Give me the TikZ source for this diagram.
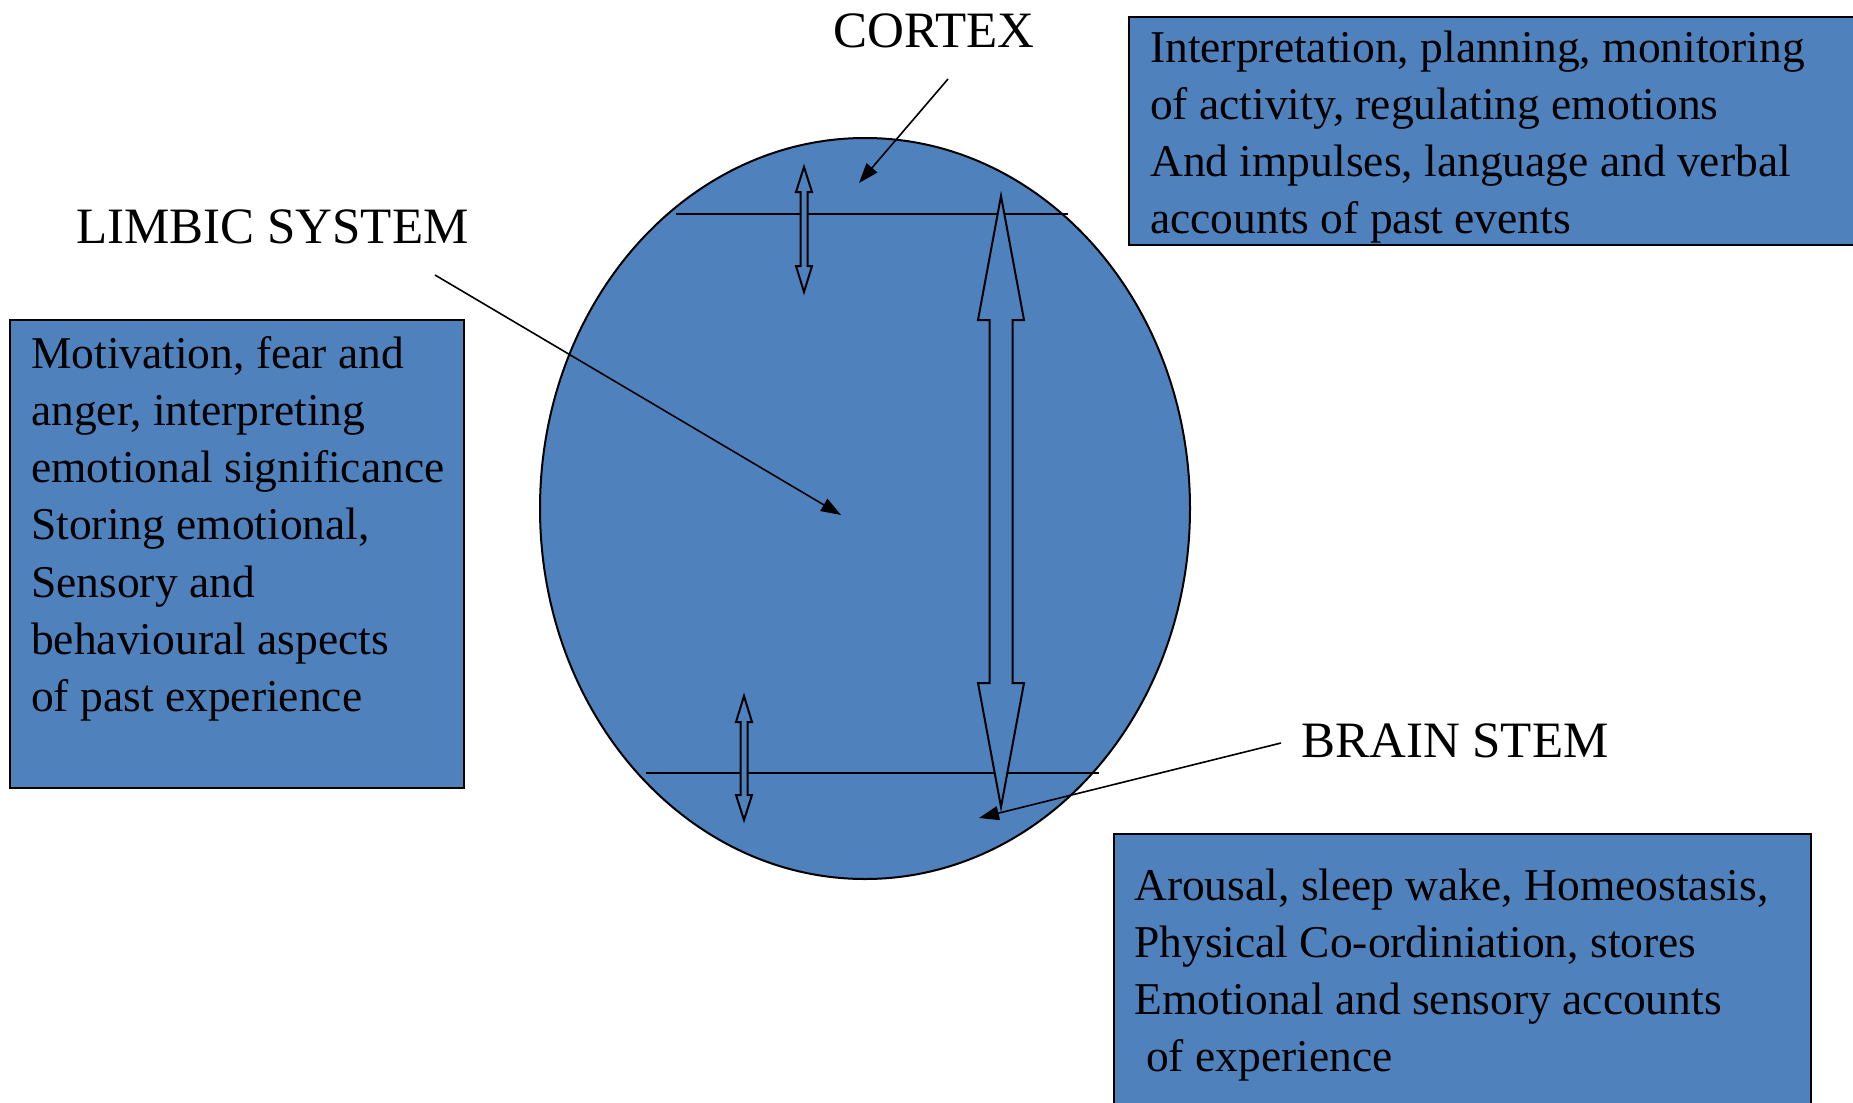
\documentclass[tikz,border=0pt]{standalone}
\usepackage{fontspec}
\setmainfont{Liberation Serif}
\usetikzlibrary{arrows.meta,shapes.geometric}
\definecolor{fillblue}{HTML}{4F81BD}
\newcommand{\infolines}[1]{\parbox[t]{760pt}{\fontsize{45.5}{57.3}\selectfont\raggedright #1}}
\begin{document}
\begin{tikzpicture}[x=1pt,y=-1pt,line join=miter,
  region/.style={fill=fillblue,draw=black,line width=2pt},
  infobox/.style={fill=fillblue,draw=black,line width=2.2pt},
  divider/.style={draw=black,line width=2pt},
  blockarrow/.style={fill=fillblue,draw=black,line width=2pt},
  pointer/.style={draw=black,line width=1.6pt,-{Triangle[length=20pt,width=14pt]}},
  partlabel/.style={font=\fontsize{51}{60}\selectfont,anchor=base west,inner sep=0pt},
  boxtext/.style={anchor=base west,inner sep=0pt}]
\useasboundingbox (0,0) rectangle (1853,1103);
\clip (0,0) rectangle (1853,1103);

% brain ellipse
\node[region,ellipse,minimum width=650pt,minimum height=741pt,inner sep=0pt] (brain) at (865,508.5) {};

% dividers
\coordinate (topL) at (676,214);
\coordinate (topR) at (1068,214);
\coordinate (botL) at (646,773);
\coordinate (botR) at (1099,773);
\draw[divider] (topL) -- (topR);
\draw[divider] (botL) -- (botR);

% block arrows
\draw[blockarrow] (804,167) -- (812,192) -- (807.5,192) -- (807.5,266) -- (812,266) -- (804,292)
  -- (796,266) -- (800.5,266) -- (800.5,192) -- (796,192) -- cycle;
\draw[blockarrow] (1001,196) -- (1024,320) -- (1012.5,320) -- (1012.5,683) -- (1024,683) -- (1001,807)
  -- (978,683) -- (989.5,683) -- (989.5,320) -- (978,320) -- cycle;
\draw[blockarrow] (744,696) -- (752,722) -- (747.5,722) -- (747.5,795) -- (752,795) -- (744,820)
  -- (736,795) -- (740.5,795) -- (740.5,722) -- (736,722) -- cycle;

% labels
\node[partlabel] (cortex) at (833,47) {CORTEX};
\node[partlabel] (limbic) at (76,243) {LIMBIC SYSTEM};
\node[partlabel] (stem) at (1301,757) {BRAIN STEM};

% pointers
\coordinate (cortexFrom) at (948,79);
\coordinate (cortexTo) at (859,183);
\coordinate (limbicFrom) at (435,275);
\coordinate (limbicTo) at (841,515);
\coordinate (stemFrom) at (1281,743);
\coordinate (stemTo) at (979,818);
\draw[pointer] (cortexFrom) -- (cortexTo);
\draw[pointer] (limbicFrom) -- (limbicTo);
\draw[pointer] (stemFrom) -- (stemTo);

% info boxes
\draw[infobox] (1129,17) rectangle (1880,245);
\node[boxtext] (cortexinfo) at (1150,62) {\infolines{Interpretation, planning, monitoring\\
of activity, regulating emotions\\
And impulses, language and verbal\\
accounts of past events}};

\draw[infobox] (10,320) rectangle (464,788);
\node[boxtext] (limbicinfo) at (31,368) {\infolines{Motivation, fear and\\
anger, interpreting\\
emotional significance\\
Storing emotional,\\
Sensory and\\
behavioural aspects\\
of past experience}};

\draw[infobox] (1114,834) rectangle (1811,1130);
\node[boxtext] (steminfo) at (1134,900) {\infolines{Arousal, sleep wake, Homeostasis,\\
Physical Co-ordiniation, stores\\
Emotional and sensory accounts\\
\hspace*{12pt}of experience}};
\end{tikzpicture}
\end{document}
